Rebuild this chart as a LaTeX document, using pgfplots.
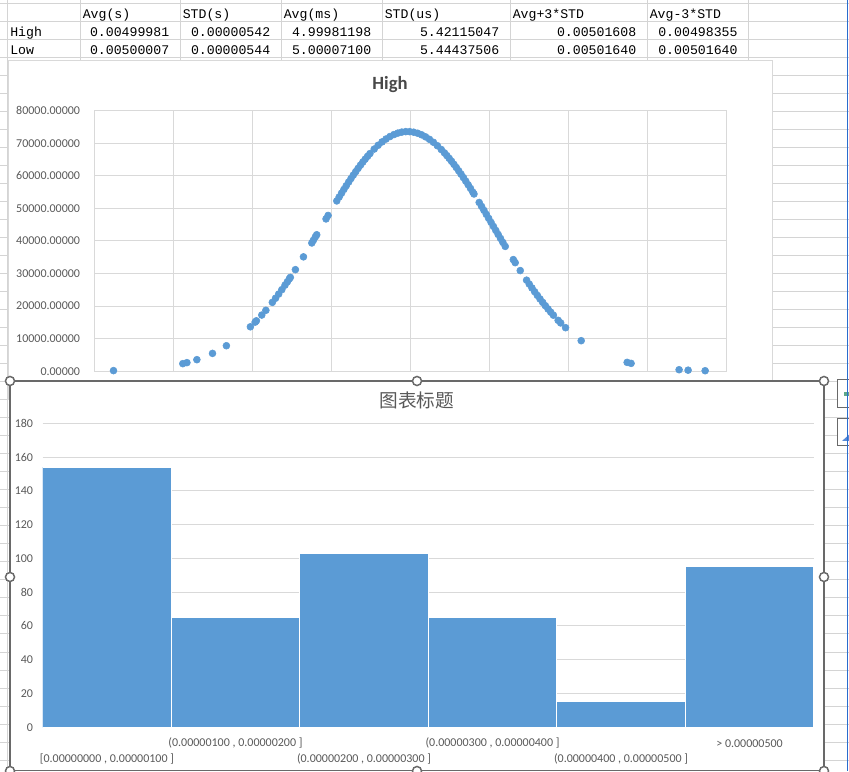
\documentclass[border=0pt]{standalone}
\usepackage{fontspec}
\setmainfont{Carlito}
\newfontfamily\cjk{Noto Sans CJK SC}
\newfontfamily\tbl{Liberation Mono}
\usepackage{pgfplots}
\pgfplotsset{compat=1.18}
\definecolor{xlblue}{RGB}{91,155,213}
\definecolor{gridg}{RGB}{217,217,217}
\definecolor{sheetg}{RGB}{212,212,212}
\definecolor{txtg}{RGB}{89,89,89}
\definecolor{titleg}{RGB}{72,72,72}
\definecolor{frameg}{RGB}{105,105,105}
\definecolor{selblue}{RGB}{43,108,206}
\definecolor{plusg}{RGB}{95,168,138}
\begin{document}
\begin{tikzpicture}
\path[use as bounding box] (0,0) rectangle (636.75pt,578.25pt);
\clip (0,0) rectangle (636.75pt,578.25pt);
\begin{scope}[x=0.75pt,y=-0.75pt,shift={(0pt,578.25pt)}]
  \fill[white] (0,0) rectangle (849,771);
  \foreach \k in {0,...,42} \draw[sheetg,line width=0.75pt] (0,{4+18*\k}) -- (849,{4+18*\k});
  \foreach \c in {7.5,80,180,281,382,510,647,748.5} \draw[sheetg,line width=0.75pt] (\c,0) -- (\c,771);
  % table
  \begin{scope}[every node/.style={inner sep=0pt,font=\tbl\fontsize{9.9}{12}\selectfont}]
    \node[anchor=base west] at (82.5,19) {Avg(s)};
    \node[anchor=base west] at (182.5,19) {STD(s)};
    \node[anchor=base west] at (283.5,19) {Avg(ms)};
    \node[anchor=base west] at (384.5,19) {STD(us)};
    \node[anchor=base west] at (512.5,19) {Avg+3*STD};
    \node[anchor=base west] at (649.5,19) {Avg-3*STD};
    \node[anchor=base west] at (10,37) {High};
    \node[anchor=base east] at (169.5,37) {0.00499981};
    \node[anchor=base east] at (270.5,37) {0.00000542};
    \node[anchor=base east] at (371.5,37) {4.99981198};
    \node[anchor=base east] at (499.5,37) {5.42115047};
    \node[anchor=base east] at (636.5,37) {0.00501608};
    \node[anchor=base east] at (737.8,37) {0.00498355};
    \node[anchor=base west] at (10,54.5) {Low};
    \node[anchor=base east] at (169.5,54.5) {0.00500007};
    \node[anchor=base east] at (270.5,54.5) {0.00000544};
    \node[anchor=base east] at (371.5,54.5) {5.00007100};
    \node[anchor=base east] at (499.5,54.5) {5.44437506};
    \node[anchor=base east] at (636.5,54.5) {0.00501640};
    \node[anchor=base east] at (737.8,54.5) {0.00501640};
  \end{scope}
  % scatter chart area
  \fill[white] (8,61) rectangle (772.5,400);
  \draw[gridg,line width=0.75pt] (8,61) rectangle (772.5,400);
  \node[anchor=base,inner sep=0pt,text=titleg,font=\bfseries\fontsize{14}{16}\selectfont] at (390,89.3) {High};
\end{scope}

\begin{axis}[
  at={(71.03pt,299.78pt)}, anchor=south west, scale only axis,
  width=473.7pt, height=195.45pt,
  xmin=4980, xmax=5020, ymin=0, ymax=80000,
  xtick={4980,4985,...,5020}, ytick={0,10000,...,80000},
  xticklabels={}, scaled x ticks=false, scaled y ticks=false,
  grid=major, grid style={gridg,line width=0.75pt},
  axis line style={gridg,line width=0.75pt},
  major tick length=0pt,
  tick label style={font=\fontsize{9}{11}\selectfont,text=txtg},
  yticklabel style={anchor=east,inner sep=0pt,xshift=-10.8pt,
    /pgf/number format/fixed,/pgf/number format/fixed zerofill,
    /pgf/number format/precision=5,/pgf/number format/1000 sep={},
    /pgf/number format/assume math mode=true},
  clip=false,
]
\addplot[only marks, mark=*, mark size=2.6pt, mark options={draw=xlblue,fill=xlblue}] coordinates {
(4981.19,202) (4985.58,2348) (4985.84,2660) (4986.47,3563) (4987.46,5493) (4988.34,7845)
(4989.86,13658) (4990.16,15093) (4990.24,15498) (4990.58,17264) (4990.84,18722)
(4991.25,21157) (4991.45,22416) (4991.65,23711) (4991.85,25057) (4992.05,26434) (4992.20,27464)
(4992.33,28398) (4992.39,28833) (4992.71,31202) (4993.22,35132) (4993.75,39393) (4993.85,40232)
(4993.98,41292) (4994.06,41917) (4994.65,46774) (4994.78,47841)
(4995.33,52300) (4995.48,53493) (4995.63,54663) (4995.78,55825) (4995.93,56966) (4996.08,58077)
(4996.23,59166) (4996.38,60248) (4996.53,61278) (4996.68,62294) (4996.83,63273) (4996.98,64222)
(4997.13,65127) (4997.28,65996) (4997.43,66827)
(4997.70,68218) (4997.95,69381) (4998.20,70418) (4998.45,71309) (4998.70,72067) (4998.95,72670)
(4999.20,73126) (4999.45,73428) (4999.70,73575) (4999.95,73566) (5000.20,73399) (5000.45,73082)
(5000.70,72604) (5000.95,71978) (5001.20,71213) (5001.45,70301) (5001.70,69249) (5001.95,68071)
(5002.15,67042) (5002.30,66223) (5002.45,65361) (5002.60,64460) (5002.75,63527) (5002.90,62556)
(5003.05,61553) (5003.20,60522) (5003.35,59461) (5003.50,58372) (5003.65,57259) (5003.80,56129)
(5003.95,54975) (5004.02,54432)
(5004.35,51821) (5004.50,50614) (5004.65,49400) (5004.80,48176) (5004.95,46945) (5005.10,45715)
(5005.25,44479) (5005.40,43243) (5005.55,42013) (5005.70,40783) (5005.85,39559) (5006.00,38342)
(5006.51,34286) (5006.63,33351) (5006.95,30916)
(5007.35,27972) (5007.52,26767) (5007.69,25586) (5007.86,24432) (5008.03,23311) (5008.20,22216)
(5008.37,21155) (5008.54,20122) (5008.71,19120) (5008.88,18154) (5009.05,17216)
(5009.35,15643) (5009.51,14843) (5009.82,13380) (5010.81,9392) (5013.72,2736) (5013.97,2428)
(5017.01,480) (5017.58,342) (5018.66,174)
};
\end{axis}

\begin{scope}[x=0.75pt,y=-0.75pt,shift={(0pt,578.25pt)}]
  \fill[white] (10,381) rectangle (824,790);
  \draw[frameg,line width=1.1pt] (10,381) rectangle (824,770.5);
  \node[inner sep=0pt,text=txtg,font=\cjk\fontsize{14}{16}\selectfont] at (416.7,400.3) {图表标题};
  \foreach \p in {(10,381),(417,381),(824,381),(10,577),(824,577),(10,771),(417,771),(824,771)}
    \draw[frameg,fill=white,line width=1.1pt] \p circle[radius=3.4pt];
  \draw[frameg,fill=white,line width=0.75pt] (837.5,380) rectangle (870,407.5);
  \draw[frameg,fill=white,line width=0.75pt] (837.5,418.5) rectangle (870,445.5);
  \fill[plusg] (844,392.3) rectangle (852,395.7);
  \fill[selblue!80!white] (842,441) -- (852,441) -- (852,432) -- cycle;
  \draw[selblue,line width=1pt] (847.8,0) -- (847.8,771);
\end{scope}

\begin{axis}[
  at={(32.03pt,32.78pt)}, anchor=south west, scale only axis,
  width=578.33pt, height=228pt,
  ybar, bar width=1,
  xmin=-0.5, xmax=5.5, ymin=0, ymax=180,
  ytick={0,20,...,180}, ymajorgrids, grid style={gridg,line width=0.75pt},
  axis line style={draw=none},
  major tick length=0pt,
  tick label style={font=\fontsize{9}{11}\selectfont,text=txtg},
  yticklabel style={anchor=east,inner sep=0pt,xshift=-7.05pt,/pgf/number format/assume math mode=true},
  xtick={0,2,4},
  xticklabels={{{}[0.00000000 , 0.00000100 ]},{(0.00000200 , 0.00000300 ]},{(0.00000400 , 0.00000500 ]}},
  xticklabel style={anchor=center,inner sep=0pt,yshift=-24pt},
  extra x ticks={1,3,5},
  extra x tick labels={{(0.00000100 , 0.00000200 ]},{(0.00000300 , 0.00000400 ]},{> 0.00000500}},
  extra x tick style={xticklabel style={yshift=12pt}},
]
\addplot[fill=xlblue,draw=white,line width=0.75pt] coordinates {(0,154) (1,65) (2,103) (3,65) (4,15) (5,95)};
\end{axis}
\end{tikzpicture}
\end{document}
